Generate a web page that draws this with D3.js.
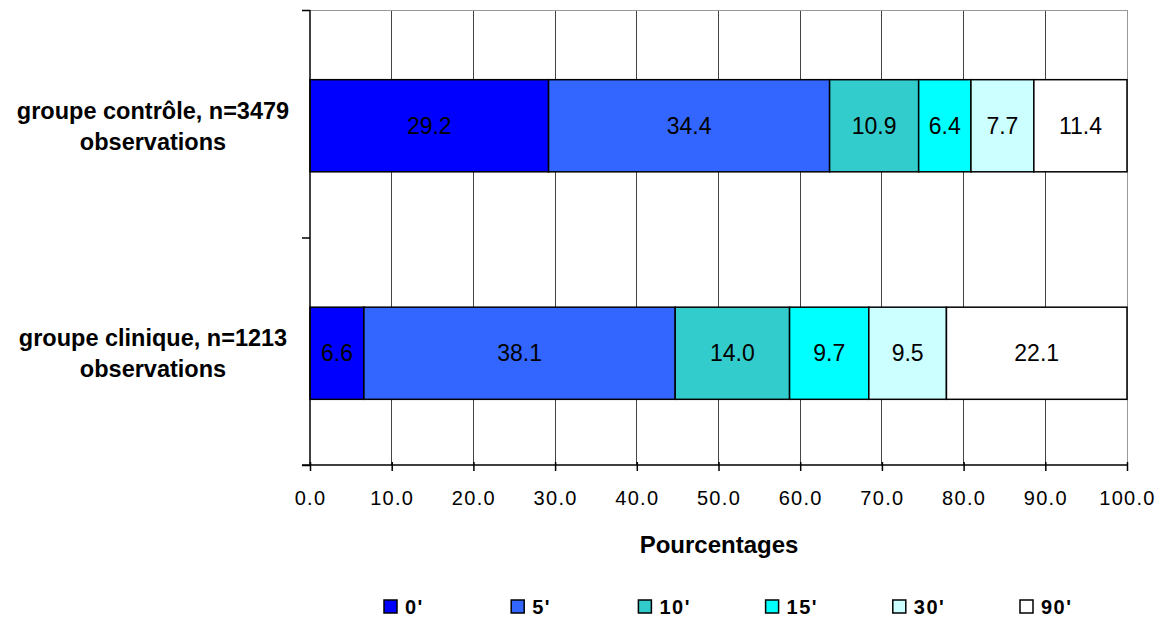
<!DOCTYPE html>
<html><head><meta charset="utf-8">
<script src="https://cdn.jsdelivr.net/npm/d3@7"></script>
<style>body{margin:0;background:#fff}svg{font-family:"Liberation Sans",Arial,Helvetica,sans-serif}</style>
</head><body><svg id="c" width="1165" height="619"></svg>
<script>
const categories = ["groupe contrôle, n=3479 observations", "groupe clinique, n=1213 observations"];
const categoryLines = [["groupe contrôle, n=3479", "observations"], ["groupe clinique, n=1213", "observations"]];
const seriesNames = ["0'", "5'", "10'", "15'", "30'", "90'"];
const seriesColors = ["#0000FF", "#3366FF", "#33CCCC", "#00FFFF", "#CCFFFF", "#FFFFFF"];
const controlValues = [29.2, 34.4, 10.9, 6.4, 7.7, 11.4];
const cliniqueValues = [6.6, 38.1, 14.0, 9.7, 9.5, 22.1];
const xTicks = [0, 10, 20, 30, 40, 50, 60, 70, 80, 90, 100];
const xTitle = "Pourcentages";

const svg = d3.select("#c");
const L = 310, R = 1127, T = 10, B = 465;
const x = d3.scaleLinear().domain([0, 100]).range([L, R]);
const y = d3.scaleBand().domain(categories).range([T + 2, B + 2]).paddingInner(0.595).paddingOuter(0.2975);

// gridlines
svg.append("g").selectAll("line").data(xTicks.slice(1)).join("line")
  .attr("x1", d => x(d)).attr("x2", d => x(d)).attr("y1", T).attr("y2", B)
  .attr("stroke", d => d === 100 ? "#999" : "#444").attr("stroke-width", 1).attr("shape-rendering", "crispEdges");
svg.append("line").attr("x1", L).attr("x2", R).attr("y1", T + 0.5).attr("y2", T + 0.5).attr("stroke", "#999");

const rows = [controlValues, cliniqueValues];
rows.forEach((vals, i) => {
  let cum = 0;
  const segs = vals.map((v, j) => { const s = { x0: cum, x1: cum + v, v, j }; cum += v; return s; });
  const g = svg.append("g");
  g.selectAll("rect").data(segs).join("rect")
    .attr("x", d => x(d.x0)).attr("width", d => x(d.x1) - x(d.x0))
    .attr("y", y(categories[i])).attr("height", y.bandwidth())
    .attr("fill", d => seriesColors[d.j]).attr("stroke", "#000").attr("stroke-width", 1.5);
  g.selectAll("text").data(segs).join("text")
    .attr("x", d => (x(d.x0) + x(d.x1)) / 2).attr("y", y(categories[i]) + y.bandwidth() / 2)
    .attr("dy", "0.35em").attr("text-anchor", "middle").attr("font-size", 23).attr("fill", "#000")
    .text(d => d.v.toFixed(1));
});

// y axis
const yAxis = d3.axisLeft(d3.scaleLinear().domain([0, 2]).range([B, T])).tickValues([0, 1, 2]).tickSize(8).tickFormat("");
const ya = svg.append("g").attr("transform", `translate(${L},0)`).call(yAxis);
ya.selectAll("path,line").attr("stroke", "#000").attr("stroke-width", 1.5);
ya.select(".domain").attr("d", `M0,${T}V${B}`);

// x axis
const xAxis = d3.axisBottom(x).tickValues(xTicks).tickSize(8).tickSizeOuter(0).tickFormat(d => d.toFixed(1));
const xa = svg.append("g").attr("transform", `translate(0,${B})`).call(xAxis);
xa.selectAll("path,line").attr("stroke", "#000").attr("stroke-width", 1.5);
xa.select(".domain").attr("d", `M${L - 8},0H${R}`);
xa.selectAll("line").attr("y1", -3).attr("y2", 6);
xa.selectAll("text").attr("font-size", 20).attr("letter-spacing", 1.3).attr("fill", "#000").attr("y", 40).attr("dy", null).attr("font-family", null);

// category labels
categories.forEach((c, i) => {
  const cy = y(c) + y.bandwidth() / 2;
  const t = svg.append("text").attr("text-anchor", "middle").attr("font-weight", "bold").attr("font-size", 23.5).attr("fill", "#000");
  categoryLines[i].forEach((ln, k) => {
    t.append("tspan").attr("x", 153).attr("y", cy - 7 + k * 31).text(ln);
  });
});

svg.append("text").attr("x", 719).attr("y", 553).attr("text-anchor", "middle").attr("font-weight", "bold").attr("font-size", 24).text(xTitle);

// legend
const lg = svg.append("g").selectAll("g").data(seriesNames).join("g")
  .attr("transform", (d, i) => `translate(${384 + i * 127.2},600)`);
lg.append("rect").attr("width", 13).attr("height", 13).attr("fill", (d, i) => seriesColors[i]).attr("stroke", "#000").attr("stroke-width", 1.5);
lg.append("text").attr("x", 21).attr("y", 6.5).attr("dy", "0.36em").attr("font-size", 20).attr("font-weight", "bold").attr("letter-spacing", 1.5).text(d => d);
</script></body></html>
